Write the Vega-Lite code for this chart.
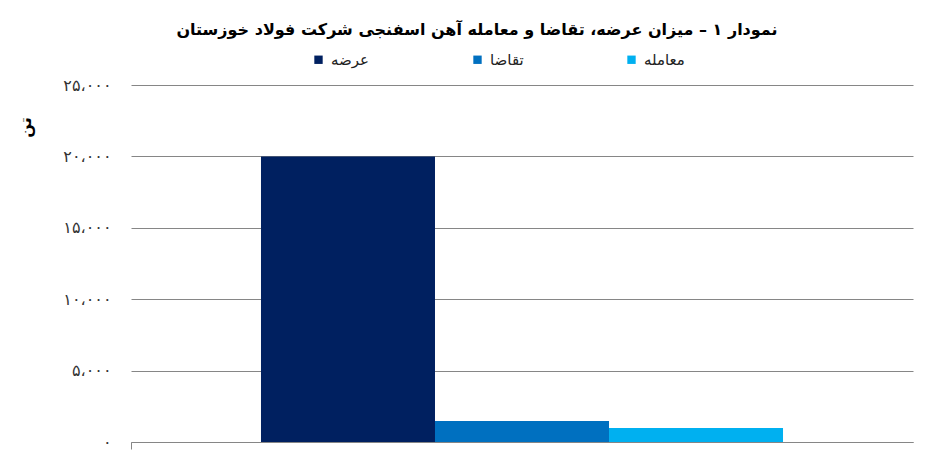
{
  "$schema": "https://vega.github.io/schema/vega-lite/v6.json",
  "width": 782,
  "height": 357,
  "autosize": {"type": "none"},
  "padding": {"left": 131, "top": 85, "right": 34, "bottom": 32},
  "background": "white",
  "title": {
    "text": "نمودار ۱ – میزان عرضه، تقاضا و معامله آهن اسفنجی شرکت فولاد خوزستان",
    "font": "DejaVu Sans",
    "fontSize": 16,
    "fontWeight": "bold",
    "color": "black",
    "anchor": "middle",
    "dx": -45,
    "offset": 14
  },
  "data": {
    "values": [
      {"company": "فولاد خوزستان", "item": "عرضه", "tons": 20000},
      {"company": "فولاد خوزستان", "item": "تقاضا", "tons": 1470},
      {"company": "فولاد خوزستان", "item": "معامله", "tons": 980}
    ]
  },
  "mark": {"type": "bar"},
  "encoding": {
    "x": {
      "field": "company",
      "type": "nominal",
      "scale": {"paddingInner": 0, "paddingOuter": 0},
      "axis": {
        "title": null,
        "labels": false,
        "domainColor": "#868686",
        "tickColor": "#868686",
        "tickSize": 7,
        "bandPosition": 0
      }
    },
    "xOffset": {
      "field": "item",
      "type": "nominal",
      "sort": ["عرضه", "تقاضا", "معامله"],
      "scale": {"paddingInner": 0, "paddingOuter": 0.747}
    },
    "y": {
      "field": "tons",
      "type": "quantitative",
      "scale": {"domain": [0, 25000]},
      "axis": {
        "title": "تن",
        "titleFont": "DejaVu Sans",
        "titleFontSize": 16,
        "titleFontWeight": "bold",
        "titleColor": "black",
        "titleAngle": -90,
        "titleX": -106,
        "titleY": 42,
        "titleAlign": "center",
        "titleBaseline": "middle",
        "values": [0, 5000, 10000, 15000, 20000, 25000],
        "labelExpr": "replace(replace(replace(replace(replace(format(datum.value, ','), regexp('0', 'g'), '۰'), regexp('1', 'g'), '۱'), regexp('2', 'g'), '۲'), regexp('5', 'g'), '۵'), regexp(',', 'g'), '،')",
        "labelFont": "DejaVu Sans",
        "labelFontSize": 16,
        "labelColor": "#333333",
        "labelPadding": 20,
        "domain": false,
        "ticks": false,
        "gridColor": "#868686",
        "gridWidth": 1
      }
    },
    "color": {
      "field": "item",
      "type": "nominal",
      "sort": ["عرضه", "تقاضا", "معامله"],
      "scale": {
        "domain": ["عرضه", "تقاضا", "معامله"],
        "range": ["#002060", "#0070C0", "#00B0F0"]
      },
      "legend": {
        "title": null,
        "orient": "none",
        "direction": "horizontal",
        "legendX": 180,
        "legendY": -33,
        "symbolType": "square",
        "symbolSize": 70,
        "symbolStrokeWidth": 0,
        "labelFont": "DejaVu Sans",
        "labelFontSize": 15,
        "labelColor": "#222222",
        "labelOffset": 5,
        "columnPadding": 100
      }
    }
  },
  "config": {
    "view": {"stroke": null}
  }
}
